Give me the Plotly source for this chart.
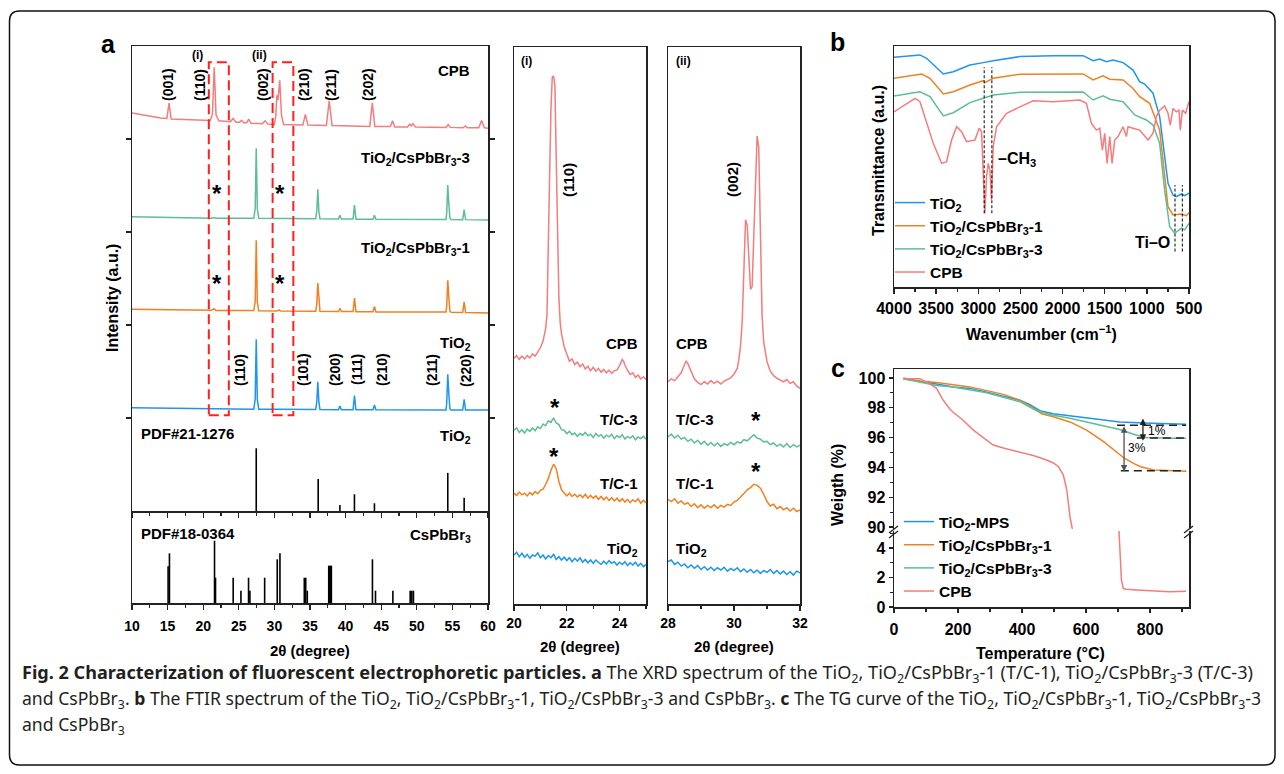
import plotly.graph_objects as go

# The page body has an 8px margin, so the figure is 16px smaller and every
# reference pixel position is shifted by that margin.
OFF = 8
W, H = 1284 - 2 * OFF, 774 - 2 * OFF
def px(x): return (x - OFF) / W
def py(y): return 1 - (y - OFF) / H

BLUE = '#1E95EE'
ORANGE = '#EF8122'
GREEN = '#5DBE96'
PINK = '#F47C7C'
RED = '#FF1F1F'
FRAME = '#222222'
FONT = 'Liberation Sans, Arial, sans-serif'
CAPFONT = 'Noto Sans, sans-serif'

# ---------------- panel a : XRD overview (2theta, stacked intensity) -------------
CPB_X = [10.0, 12.0, 14.0, 14.9, 15.2, 15.5, 17.0, 19.0, 21.0, 21.3, 21.55, 21.8, 22.2, 23.8, 24.2, 24.6,
         25.1, 25.4, 25.7, 26.1, 26.4, 26.7, 28.3, 28.7, 29.1, 30.0, 30.2, 30.35, 30.5, 30.75, 31.0, 31.3,
         34.0, 34.35, 34.7, 37.3, 37.7, 38.1, 40.0, 43.4, 43.75, 44.1, 46.3, 46.6, 46.9, 48.7, 49.0, 49.2,
         49.45, 49.8, 54.1, 54.4, 54.7, 56.5, 56.8, 57.1, 58.7, 59.1, 59.5, 60.0]
CPB_Y = [4.28, 4.25, 4.225, 4.22, 4.385, 4.215, 4.21, 4.20, 4.20, 4.27, 4.77, 4.26, 4.195, 4.185, 4.22, 4.18,
         4.18, 4.20, 4.175, 4.175, 4.215, 4.17, 4.165, 4.195, 4.16, 4.155, 4.25, 4.47, 4.42, 4.63, 4.25, 4.155,
         4.15, 4.265, 4.15, 4.145, 4.41, 4.145, 4.14, 4.135, 4.39, 4.135, 4.135, 4.195, 4.13, 4.13, 4.16, 4.14,
         4.165, 4.13, 4.125, 4.155, 4.125, 4.12, 4.14, 4.12, 4.12, 4.20, 4.12, 4.115]

TC_X = [10.0, 15.0, 21.2, 21.5, 21.8, 27.1, 27.3, 27.45, 27.6, 27.8, 30.4, 30.65, 30.9, 35.8, 35.95, 36.1,
        36.25, 36.4, 39.0, 39.2, 39.4, 41.05, 41.25, 41.45, 43.85, 44.05, 44.25, 54.1, 54.2, 54.35, 54.5,
        54.65, 54.8, 56.45, 56.65, 56.85, 60.0]
TC3_Y = [3.165, 3.155, 3.148, 3.155, 3.147, 3.148, 3.25, 3.90, 3.25, 3.148, 3.145, 3.152, 3.145, 3.143, 3.22, 3.46,
         3.22, 3.142, 3.14, 3.18, 3.14, 3.14, 3.29, 3.138, 3.137, 3.18, 3.136, 3.135, 3.20, 3.505, 3.30,
         3.15, 3.134, 3.133, 3.24, 3.133, 3.13]
TC1_Y = [2.17, 2.165, 2.158, 2.175, 2.157, 2.155, 2.25, 2.91, 2.25, 2.153, 2.15, 2.162, 2.15, 2.148, 2.22, 2.45,
         2.22, 2.147, 2.145, 2.18, 2.145, 2.144, 2.29, 2.143, 2.142, 2.20, 2.141, 2.14, 2.20, 2.48, 2.30,
         2.15, 2.137, 2.135, 2.25, 2.134, 2.13]
TIO2_Y = [1.11, 1.105, 1.098, 1.097, 1.096, 1.095, 1.20, 1.846, 1.20, 1.094, 1.093, 1.093, 1.093, 1.092, 1.17, 1.39,
          1.17, 1.091, 1.09, 1.13, 1.09, 1.09, 1.24, 1.089, 1.088, 1.14, 1.088, 1.087, 1.15, 1.47, 1.26,
          1.10, 1.087, 1.086, 1.20, 1.086, 1.086]

PDF_TIO2_POS = [27.45, 36.15, 39.2, 41.24, 44.05, 54.35, 56.65]
PDF_TIO2_H = [0.674, 0.344, 0.065, 0.18, 0.083, 0.41, 0.143]

PDF_CPB_POS = [15.07, 15.26, 21.59, 21.73, 24.21, 25.3, 26.37, 26.56, 28.63, 30.4, 30.78, 34.2, 34.4, 34.62,
               37.63, 37.75, 37.88, 38.0, 43.77, 44.2, 46.64, 49.07, 49.3, 49.53]
PDF_CPB_H = [0.40, 0.54, 0.677, 0.275, 0.275, 0.134, 0.275, 0.134, 0.275, 0.475, 0.54, 0.275, 0.275, 0.134,
             0.405, 0.405, 0.405, 0.405, 0.475, 0.134, 0.134, 0.134, 0.134, 0.134]

ZOOM_BOX_I = [20.79, 23.6]
ZOOM_BOX_II = [29.75, 32.66]
ZOOM_BOX_Y = [1.03, 4.825]

# ---------------- panel a (i) : 20-25 deg -------------
I_X = [20.0, 20.1, 20.2, 20.3, 20.4, 20.5, 20.6, 20.7, 20.8, 20.9, 21.0, 21.1, 21.2, 21.3, 21.4, 21.5, 21.6,
       21.7, 21.8, 21.9, 22.0, 22.1, 22.2, 22.3, 22.4, 22.5, 22.6, 22.7, 22.8, 22.9, 23.0, 23.1, 23.2, 23.3,
       23.4, 23.5, 23.6, 23.7, 23.8, 23.9, 24.0, 24.1, 24.2, 24.3, 24.4, 24.5, 24.6, 24.7, 24.8, 24.9, 25.0]
I_TC3 = [31.2, 31.6, 30.8, 31.3, 30.7, 31.4, 31.0, 31.6, 31.1, 31.8, 31.5, 32.3, 32.0, 32.9, 32.6, 33.4, 32.5,
         32.2, 31.3, 31.2, 30.6, 31.0, 30.4, 30.7, 30.1, 30.6, 30.3, 30.8, 30.2, 30.5, 29.9, 30.6, 30.1, 30.4,
         29.8, 30.3, 30.0, 30.5, 29.7, 30.2, 29.9, 30.4, 29.6, 30.1, 29.8, 30.2, 29.5, 30.0, 29.7, 30.1, 29.6]
I_TC1 = [19.9, 19.5, 20.1, 19.6, 19.9, 19.4, 20.0, 19.6, 20.2, 19.8, 20.4, 20.6, 21.5, 22.5, 24.0, 25.1, 24.3,
         22.0, 20.5, 19.9, 19.4, 19.9, 19.3, 19.7, 19.2, 19.6, 19.1, 19.7, 19.0, 19.5, 19.0, 19.4, 18.8, 19.3,
         18.7, 19.2, 18.6, 19.1, 18.5, 19.0, 18.4, 18.9, 18.3, 18.8, 18.2, 18.7, 18.4, 18.9, 18.1, 18.6, 18.2]
I_TIO2 = [8.8, 9.3, 8.5, 9.1, 8.4, 8.9, 8.2, 8.8, 8.6, 9.2, 8.3, 8.8, 8.1, 8.7, 8.3, 8.9, 8.0,
          8.5, 7.9, 8.4, 7.8, 8.3, 7.6, 8.2, 7.7, 8.3, 7.5, 8.0, 7.4, 7.9, 7.3, 7.9, 7.5, 7.1,
          7.7, 7.2, 7.8, 7.3, 7.6, 7.0, 7.5, 7.1, 7.6, 6.9, 7.4, 7.0, 7.5, 6.8, 7.3, 6.7, 7.1]
I_CPB_X = [20.0, 20.1, 20.2, 20.3, 20.4, 20.5, 20.6, 20.7, 20.8, 20.9, 21.0, 21.1, 21.2, 21.25, 21.3, 21.35,
           21.4, 21.45, 21.5, 21.55, 21.6, 21.65, 21.7, 21.75, 21.8, 21.9, 22.0, 22.1, 22.2, 22.3, 22.4, 22.5,
           22.6, 22.7, 22.8, 22.9, 23.0, 23.1, 23.2, 23.3, 23.4, 23.5, 23.6, 23.7, 23.8, 23.9, 24.0, 24.1,
           24.15, 24.2, 24.3, 24.4, 24.5, 24.6, 24.7, 24.8, 24.9, 25.0]
I_CPB = [44.1, 44.6, 43.9, 44.5, 44.0, 44.6, 44.2, 44.9, 44.5, 45.2, 46.0, 47.2, 49.5, 52.0, 62.0, 77.0,
         89.0, 94.6, 94.8, 93.0, 80.0, 66.0, 55.0, 50.5, 48.5, 46.2, 44.8, 43.6, 44.0, 43.0, 43.4, 42.6,
         43.1, 42.2, 42.7, 41.9, 42.5, 41.8, 42.3, 41.6, 42.1, 41.5, 42.0, 41.4, 41.9, 42.0, 42.8, 43.9,
         43.6, 42.9, 42.0, 41.2, 41.5, 40.7, 41.1, 40.4, 40.8, 40.3]

# ---------------- panel a (ii) : 28-32 deg -------------
II_X = [28.0, 28.1, 28.2, 28.3, 28.4, 28.5, 28.6, 28.7, 28.8, 28.9, 29.0, 29.1, 29.2, 29.3, 29.4, 29.5, 29.6,
        29.7, 29.8, 29.9, 30.0, 30.1, 30.2, 30.3, 30.4, 30.5, 30.6, 30.7, 30.8, 30.9, 31.0, 31.1, 31.2, 31.3,
        31.4, 31.5, 31.6, 31.7, 31.8, 31.9, 32.0]
II_TC3 = [30.0, 30.5, 29.8, 30.3, 29.6, 29.9, 29.2, 29.6, 28.9, 29.4, 28.7, 29.2, 28.5, 29.0, 28.4, 28.9, 28.3,
          28.8, 28.5, 29.0, 28.6, 29.1, 28.9, 29.5, 29.3, 29.9, 30.4, 29.8, 29.6, 29.1, 29.2, 28.6, 28.9, 28.3,
          28.7, 28.2, 28.8, 28.1, 28.6, 28.2, 28.5]
II_TC1 = [18.8, 18.4, 18.9, 18.1, 18.5, 17.9, 18.2, 17.5, 18.0, 17.3, 17.8, 17.2, 17.7, 17.3, 17.8, 17.2, 17.7,
          17.4, 17.9, 17.7, 18.3, 18.6, 19.2, 19.8, 20.5, 20.9, 21.5, 21.3, 20.8, 19.7, 18.4, 17.6, 17.9, 17.1,
          17.5, 16.9, 17.3, 16.7, 17.2, 16.6, 16.9]
II_TIO2 = [7.6, 7.9, 7.1, 7.5, 6.8, 7.2, 6.5, 7.0, 6.4, 6.9, 6.2, 6.7, 6.1, 6.6, 6.0, 6.5, 6.1,
           6.6, 5.9, 6.4, 6.0, 6.5, 5.8, 6.3, 5.7, 6.2, 5.6, 6.1, 5.5, 6.0, 5.7, 6.2, 5.5, 6.0,
           5.4, 5.9, 5.3, 5.8, 5.2, 5.9, 5.6]
II_CPB_X = [28.0, 28.1, 28.2, 28.3, 28.4, 28.5, 28.55, 28.6, 28.7, 28.8, 28.9, 29.0, 29.1, 29.2, 29.3, 29.4,
            29.5, 29.6, 29.7, 29.8, 29.9, 30.0, 30.1, 30.15, 30.2, 30.25, 30.3, 30.35, 30.4, 30.45, 30.5, 30.55,
            30.6, 30.65, 30.7, 30.75, 30.8, 30.85, 30.9, 31.0, 31.1, 31.2, 31.3, 31.4, 31.5, 31.6, 31.7, 31.8,
            31.9, 32.0]
II_CPB = [39.9, 40.4, 40.1, 40.8, 41.5, 43.0, 43.6, 43.2, 41.8, 40.4, 39.8, 39.4, 39.9, 39.5, 40.1, 39.6,
          40.0, 39.5, 40.0, 40.3, 40.6, 41.3, 42.3, 44.0, 46.5, 51.0, 62.0, 69.0, 68.0, 62.5, 56.5, 57.0,
          66.0, 78.0, 84.0, 82.0, 66.0, 52.0, 47.0, 43.5, 41.8, 41.0, 40.5, 40.2, 39.9, 40.3, 39.6, 39.9,
          39.1, 38.7]

# ---------------- panel b : FTIR -------------
FT_W_TIO2 = [4000, 3692, 3613, 3415, 3297, 3099, 2941, 2823, 2507, 2112, 1756, 1638, 1559, 1480, 1401, 1282,
             1164, 1085, 1026, 927, 848, 789, 749, 690, 650, 591, 552, 500]
FT_T_TIO2 = [95.3, 96.3, 94.9, 88.4, 89.3, 92.1, 93.1, 93.9, 95.6, 96.0, 96.0, 93.9, 94.6, 93.5, 94.2, 93.1,
             90.0, 85.2, 84.2, 80.4, 70.7, 54.1, 43.0, 38.2, 37.5, 38.6, 37.9, 38.9]
FT_W_TC1 = [4000, 3672, 3573, 3415, 3297, 3099, 2941, 2922, 2823, 2507, 1756, 1638, 1519, 1440, 1282, 1164,
            1085, 967, 848, 789, 749, 690, 591, 532, 500]
FT_T_TC1 = [86.6, 88.4, 86.6, 80.1, 81.0, 83.8, 85.6, 84.8, 86.6, 88.3, 88.4, 85.9, 87.6, 86.2, 85.9, 82.4,
            79.0, 76.2, 65.1, 47.2, 33.3, 29.9, 30.3, 29.6, 30.8]
FT_W_TC3 = [4000, 3692, 3573, 3415, 3297, 3099, 2941, 2823, 2507, 1756, 1638, 1519, 1440, 1282, 1144, 1006,
            927, 848, 789, 729, 670, 591, 552, 500]
FT_T_TC3 = [79.3, 81.0, 79.0, 71.0, 72.3, 76.5, 78.3, 79.7, 80.8, 80.9, 77.6, 79.3, 77.9, 76.9, 71.4, 69.3,
            67.2, 59.6, 40.2, 25.0, 22.3, 24.4, 23.7, 26.4]
FT_W_CPB = [4000, 3889, 3751, 3692, 3613, 3534, 3435, 3376, 3317, 3257, 3198, 3139, 3040, 2989, 2961, 2941,
            2922, 2902, 2882, 2862, 2843, 2823, 2783, 2665, 2349, 2112, 1796, 1717, 1658, 1598, 1559, 1527,
            1500, 1472, 1440, 1413, 1381, 1342, 1282, 1243, 1223, 1164, 1085, 986, 927, 887, 848, 789, 749,
            722, 690, 650, 619, 603, 579, 540, 500]
FT_T_CPB = [72.7, 75.1, 78.3, 76.9, 67.9, 59.6, 51.3, 52.0, 61.0, 66.5, 64.4, 60.3, 61.0, 65.9, 64.4, 45.8,
            30.6, 45.8, 51.3, 48.5, 36.1, 58.2, 66.5, 72.1, 77.3, 76.9, 77.6, 76.2, 67.9, 65.1, 65.9, 56.8,
            63.8, 51.3, 62.4, 51.3, 61.0, 62.4, 66.5, 62.4, 66.5, 65.9, 65.1, 61.0, 63.8, 70.7, 73.4, 75.1, 72.1,
            67.2, 74.1, 72.7, 73.4, 65.1, 73.4, 72.1, 76.9]
CH3_LINES = [2930, 2839]
CH3_SPAN = [30.6, 91.2]
TIO_LINES = [666, 579]
TIO_SPAN = [14.7, 42.3]

# ---------------- panel c : TG -------------
TG_T_TIO2 = [29, 81, 133, 185, 237, 290, 342, 394, 425, 456, 498, 550, 602, 646, 706, 781, 862, 913]
TG_W_TIO2 = [99.95, 99.8, 99.6, 99.4, 99.3, 99.05, 98.8, 98.5, 98.2, 97.8, 97.6, 97.45, 97.3, 97.2, 97.05,
             96.98, 96.9, 96.9]
TG_T_TC1 = [29, 81, 133, 185, 237, 290, 342, 394, 435, 461, 498, 550, 602, 654, 700, 721, 750, 771, 812, 860, 913]
TG_W_TC1 = [100.0, 99.8, 99.7, 99.55, 99.4, 99.15, 98.9, 98.5, 98.0, 97.6, 97.4, 97.05, 96.5, 95.75, 95.0,
            94.6, 94.25, 94.05, 93.83, 93.77, 93.75]
TG_T_TC3 = [29, 81, 133, 185, 237, 290, 342, 394, 446, 498, 550, 602, 646, 705, 756, 787, 862, 913]
TG_W_TC3 = [99.95, 99.7, 99.5, 99.4, 99.2, 99.0, 98.7, 98.4, 97.8, 97.5, 97.3, 97.05, 96.83, 96.54, 96.17,
            96.0, 95.96, 95.96]
TG_T_CPB = [29, 81, 112, 133, 154, 175, 185, 217, 248, 279, 310, 342, 394, 435, 477, 498, 514, 529, 540, 550,
            557, 703, 707, 711, 717, 727, 758, 810, 862, 913]
TG_W_CPB = [99.95, 99.95, 99.6, 99.3, 98.5, 97.9, 97.7, 97.15, 96.5, 96.0, 95.5, 95.3, 95.0, 94.8, 94.5, 94.3,
            94.05, 93.5, 92.5, 90.7, 89.9, 5.2, 3.5, 1.8, 1.25, 1.2, 1.15, 1.1, 1.03, 1.07]
LOSS_LEVELS = [96.83, 95.97, 93.77]
LOSS_STARTS = [697, 759, 709]
LOSS_END = 913

fig = go.Figure()

def line(x, y, color, xa, ya, name=None, legend=None, width=1.5):
    fig.add_trace(go.Scatter(x=x, y=y, mode='lines', line=dict(color=color, width=width),
                             xaxis=xa, yaxis=ya, name=name, showlegend=legend is not None,
                             legend=legend or 'legend', legendgroup=name, hoverinfo='skip'))

def sticks(pos, h, xa, ya):
    xs, ys = [], []
    for p, v in zip(pos, h):
        xs += [p, p, None]
        ys += [0, v, None]
    line(xs, ys, '#000000', xa, ya, width=1.6)

# panel a main
line(CPB_X, CPB_Y, PINK, 'x', 'y')
line(TC_X, TC3_Y, GREEN, 'x', 'y')
line(TC_X, TC1_Y, ORANGE, 'x', 'y')
line(TC_X, TIO2_Y, BLUE, 'x', 'y')
sticks(PDF_TIO2_POS, PDF_TIO2_H, 'x', 'y')
sticks(PDF_CPB_POS, PDF_CPB_H, 'x2', 'y2')
# (i)
line(I_CPB_X, I_CPB, PINK, 'x3', 'y3')
line(I_X, I_TC3, GREEN, 'x3', 'y3')
line(I_X, I_TC1, ORANGE, 'x3', 'y3')
line(I_X, I_TIO2, BLUE, 'x3', 'y3')
# (ii)
line(II_CPB_X, II_CPB, PINK, 'x4', 'y4')
line(II_X, II_TC3, GREEN, 'x4', 'y4')
line(II_X, II_TC1, ORANGE, 'x4', 'y4')
line(II_X, II_TIO2, BLUE, 'x4', 'y4')
# b
line(FT_W_TIO2, FT_T_TIO2, BLUE, 'x5', 'y5', 'TiO<sub>2</sub>', 'legend')
line(FT_W_TC1, FT_T_TC1, ORANGE, 'x5', 'y5', 'TiO<sub>2</sub>/CsPbBr<sub>3</sub>-1', 'legend')
line(FT_W_TC3, FT_T_TC3, GREEN, 'x5', 'y5', 'TiO<sub>2</sub>/CsPbBr<sub>3</sub>-3', 'legend')
line(FT_W_CPB, FT_T_CPB, PINK, 'x5', 'y5', 'CPB', 'legend')
# c
line(TG_T_TIO2, TG_W_TIO2, BLUE, 'x6', 'y6', 'TiO<sub>2</sub>-MPS', 'legend2')
line(TG_T_TC1, TG_W_TC1, ORANGE, 'x6', 'y6', 'TiO<sub>2</sub>/CsPbBr<sub>3</sub>-1', 'legend2')
line(TG_T_TC3, TG_W_TC3, GREEN, 'x6', 'y6', 'TiO<sub>2</sub>/CsPbBr<sub>3</sub>-3', 'legend2')
line(TG_T_CPB, TG_W_CPB, PINK, 'x6', 'y6', 'CPB', 'legend2')
line(TG_T_CPB, TG_W_CPB, PINK, 'x7', 'y7')

def axis(domain, rng, anchor, **kw):
    d = dict(domain=domain, range=rng, anchor=anchor, showline=True, linecolor=FRAME, linewidth=1.5,
             showgrid=False, zeroline=False, ticks='', showticklabels=False, fixedrange=True,
             automargin=False, tickcolor=FRAME, tickwidth=1.3, ticklen=5,
             tickfont=dict(family=FONT, size=14, color='black', weight='bold'))
    d.update(kw)
    return d

def minor(dt, t0):
    return dict(dtick=dt, tick0=t0, ticks='outside', ticklen=3, tickwidth=1.2, tickcolor=FRAME, showgrid=False)

ax_a = [px(132), px(488)]
ax_i = [px(514), px(646)]
ax_ii = [px(668), px(800)]
ax_bc = [px(894), px(1189)]
TF16 = dict(family=FONT, size=16, color='black', weight='bold')

layout = dict(
    width=W, height=H, autosize=False, margin=dict(l=0, r=0, t=0, b=0, pad=0, autoexpand=False),
    paper_bgcolor='white', plot_bgcolor='rgba(0,0,0,0)',
    xaxis=axis(ax_a, [10, 60], 'y', mirror=True, ticks='outside', dtick=5, tick0=10, minor=minor(2.5, 10)),
    yaxis=axis([py(511), py(46)], [0, 5], 'x', mirror='ticks', ticks='outside', tickvals=[1, 2, 3, 4]),
    xaxis2=axis(ax_a, [10, 60], 'y2', ticks='outside', dtick=5, tick0=10, showticklabels=True,
                minor=minor(2.5, 10), ticklabelstandoff=5),
    yaxis2=axis([py(603), py(511)], [0, 1], 'x2', mirror=True),
    xaxis3=axis(ax_i, [20, 25], 'y3', mirror=True, ticks='outside', dtick=2, tick0=20, showticklabels=True,
                minor=minor(1, 20), ticklabelstandoff=1),
    yaxis3=axis([py(604), py(47)], [0, 100], 'x3', mirror=True),
    xaxis4=axis(ax_ii, [28, 32], 'y4', mirror=True, ticks='outside', dtick=2, tick0=28, showticklabels=True,
                minor=minor(1, 28), ticklabelstandoff=1),
    yaxis4=axis([py(604), py(47)], [0, 100], 'x4', mirror=True),
    xaxis5=axis(ax_bc, [4000, 500], 'y5', mirror=True, ticks='outside', dtick=500, tick0=500,
                showticklabels=True, minor=minor(250, 500), tickfont=TF16, ticklabelstandoff=1),
    yaxis5=axis([py(287), py(46)], [0, 100], 'x5', mirror=True),
    xaxis6=axis(ax_bc, [0, 922], 'y6', side='top'),
    yaxis6=axis([py(529), py(369)], [89.87, 100.6], 'x6', mirror=True, ticks='outside', dtick=2,
                tick0=90, showticklabels=True, minor=minor(1, 90), ticklen=4, tickfont=TF16),
    xaxis7=axis(ax_bc, [0, 922], 'y7', ticks='outside', dtick=200, tick0=0, showticklabels=True,
                minor=minor(100, 0), ticklen=4, tickfont=TF16, ticklabelstandoff=3),
    yaxis7=axis([py(607), py(531)], [0, 5.15], 'x7', mirror=True, ticks='outside', dtick=2, tick0=0,
                showticklabels=True, minor=minor(1, 0), ticklen=4, tickfont=TF16),
    legend=dict(x=px(890), y=py(186), xanchor='left', yanchor='top', bgcolor='rgba(0,0,0,0)',
                font=dict(family=FONT, size=15.5, color='black', weight='bold'), tracegroupgap=0,
                itemclick=False, itemdoubleclick=False),
    legend2=dict(x=px(899), y=py(505), xanchor='left', yanchor='top', bgcolor='rgba(0,0,0,0)',
                 font=dict(family=FONT, size=15.5, color='black', weight='bold'), tracegroupgap=0,
                 itemclick=False, itemdoubleclick=False),
    showlegend=True,
)
fig.update_layout(**layout)

anns = []
def A(text, x, y, size=15, xa='center', ya='middle', angle=0, color='black', family=FONT, bold=True):
    t = f'<b>{text}</b>' if bold else text
    anns.append(dict(text=t, x=px(x), y=py(y), xref='paper', yref='paper', xanchor=xa, yanchor=ya,
                     textangle=angle, showarrow=False,
                     font=dict(family=family, size=size, color=color)))

# panel letters
A('a', 108, 44, 25)
A('b', 837, 42, 25)
A('c', 838, 368, 25)

# panel a texts
A('CPB', 472, 70, 15, xa='right')
A('TiO<sub>2</sub>/CsPbBr<sub>3</sub>-3', 472, 158, 15, xa='right')
A('TiO<sub>2</sub>/CsPbBr<sub>3</sub>-1', 472, 248, 15, xa='right')
A('TiO<sub>2</sub>', 473, 343, 15, xa='right')
A('PDF#21-1276', 139, 433, 15, xa='left')
A('TiO<sub>2</sub>', 473, 436, 15, xa='right')
A('PDF#18-0364', 139, 533, 15, xa='left')
A('CsPbBr<sub>3</sub>', 473, 535, 15, xa='right')
for t, x in [('(001)', 168), ('(110)', 200), ('(002)', 263), ('(210)', 304), ('(211)', 331), ('(202)', 368)]:
    A(t, x, 85, 14, angle=-90)
for t, x in [('(110)', 240), ('(101)', 303), ('(200)', 335), ('(111)', 357), ('(210)', 382),
             ('(211)', 432), ('(220)', 466)]:
    A(t, x, 370, 14, angle=-90)
A('(i)', 197, 55, 12)
A('(ii)', 259, 55, 12)
for x, y in [(217, 191), (280, 191), (217, 281), (280, 281)]:
    A('*', x, y + 2, 24)
A('Intensity (a.u.)', 113, 298, 16, angle=-90)
A('2θ (degree)', 310, 650, 15)

# (i), (ii)
A('(i)', 526, 61, 12)
A('(ii)', 683, 61, 12)
A('(110)', 569, 180, 15, angle=-90)
A('(002)', 733, 180, 15, angle=-90)
for t, y in [('CPB', 343), ('T/C-3', 419), ('T/C-1', 483), ('TiO<sub>2</sub>', 549)]:
    A(t, 640, y, 15, xa='right')
    A(t, 674, y, 15, xa='left')
for x, y in [(555, 404), (554, 453), (756, 417), (756, 468)]:
    A('*', x, y + 3, 24)
A('2θ (degree)', 580, 646, 15)
A('2θ (degree)', 734, 646, 15)

# panel b texts
A('–CH<sub>3</sub>', 996, 160, 16, xa='left')
A('Ti–O', 1152, 242, 16)
A('Wavenumber (cm<sup>−1</sup>)', 1041, 333, 16)
A('Transmittance (a.u.)', 879, 160, 16, angle=-90)

# panel c texts
A('Weigth (%)', 837, 485, 16, angle=-90)
A('Temperature (°C)', 1040, 653, 16)
A('1%', 1157, 431, 12, bold=False)
A('3%', 1137, 448, 12, bold=False)
anns.append(dict(x=778, y=95.78, ax=778, ay=97.38, xref='x6', yref='y6', axref='x6', ayref='y6', text='',
                 showarrow=True, arrowhead=2, startarrowhead=2, arrowside='end+start', arrowsize=1,
                 arrowwidth=1.3, arrowcolor='#222', standoff=0, startstandoff=0))
anns.append(dict(x=719, y=93.72, ax=719, ay=96.86, xref='x6', yref='y6', axref='x6', ayref='y6', text='',
                 showarrow=True, arrowhead=2, startarrowhead=2, arrowside='end+start', arrowsize=1,
                 arrowwidth=1.3, arrowcolor='#555', standoff=0, startstandoff=0))

# caption
CAP = '#231F20'
cap1 = ('<b>Fig. 2 Characterization of fluorescent electrophoretic particles. a</b> The XRD spectrum of the '
        'TiO<sub>2</sub>, TiO<sub>2</sub>/CsPbBr<sub>3</sub>-1 (T/C-1), TiO<sub>2</sub>/CsPbBr<sub>3</sub>-3 (T/C-3)')
cap2 = ('and CsPbBr<sub>3</sub>. <b>b</b> The FTIR spectrum of the TiO<sub>2</sub>, TiO<sub>2</sub>/CsPbBr<sub>3</sub>-1, '
        'TiO<sub>2</sub>/CsPbBr<sub>3</sub>-3 and CsPbBr<sub>3</sub>. <b>c</b> The TG curve of the TiO<sub>2</sub>, '
        'TiO<sub>2</sub>/CsPbBr<sub>3</sub>-1, TiO<sub>2</sub>/CsPbBr<sub>3</sub>-3')
cap3 = 'and CsPbBr<sub>3</sub>'
for t, y, s in [(cap1, 673, 18.1), (cap2, 699, 17.6), (cap3, 725, 17.6)]:
    A(t, 20, y, s, xa='left', color=CAP, family=CAPFONT, bold=False)

fig.update_layout(annotations=anns)

shapes = []
# zoom boxes on panel a
for bx in (ZOOM_BOX_I, ZOOM_BOX_II):
    shapes.append(dict(type='rect', xref='x', yref='y', x0=bx[0], x1=bx[1], y0=ZOOM_BOX_Y[0], y1=ZOOM_BOX_Y[1],
                       line=dict(color=RED, width=2, dash='10px,5px')))
# FTIR dashed guides
for w in CH3_LINES:
    shapes.append(dict(type='line', xref='x5', yref='y5', x0=w, x1=w, y0=CH3_SPAN[0], y1=CH3_SPAN[1],
                       line=dict(color='black', width=1, dash='3px,2px')))
for w in TIO_LINES:
    shapes.append(dict(type='line', xref='x5', yref='y5', x0=w, x1=w, y0=TIO_SPAN[0], y1=TIO_SPAN[1],
                       line=dict(color='black', width=1, dash='3px,2px')))
# TG loss levels
for lv, st in zip(LOSS_LEVELS, LOSS_STARTS):
    shapes.append(dict(type='line', xref='x6', yref='y6', x0=st, x1=LOSS_END, y0=lv, y1=lv,
                       line=dict(color='#222', width=1.5, dash='8px,5px')))
# axis break marks
for bxp in (894, 1189):
    for dy in (0, 5):
        shapes.append(dict(type='line', xref='paper', yref='paper', x0=px(bxp - 5), y0=py(533 + dy),
                           x1=px(bxp + 4), y1=py(526 + dy), line=dict(color=FRAME, width=1.3)))
# outer rounded border
x0, y0, x1, y1, r = 9.5, 11, 1275, 765, 10
pts = lambda X, Y: f'{px(X):.5f},{py(Y):.5f}'
path = (f'M {pts(x0 + r, y0)} L {pts(x1 - r, y0)} Q {pts(x1, y0)} {pts(x1, y0 + r)} '
        f'L {pts(x1, y1 - r)} Q {pts(x1, y1)} {pts(x1 - r, y1)} L {pts(x0 + r, y1)} '
        f'Q {pts(x0, y1)} {pts(x0, y1 - r)} L {pts(x0, y0 + r)} Q {pts(x0, y0)} {pts(x0 + r, y0)} Z')
shapes.append(dict(type='path', xref='paper', yref='paper', path=path, line=dict(color='#111', width=1.5)))
fig.update_layout(shapes=shapes)

fig.write_html('out.html', config={'displayModeBar': False, 'staticPlot': True})
